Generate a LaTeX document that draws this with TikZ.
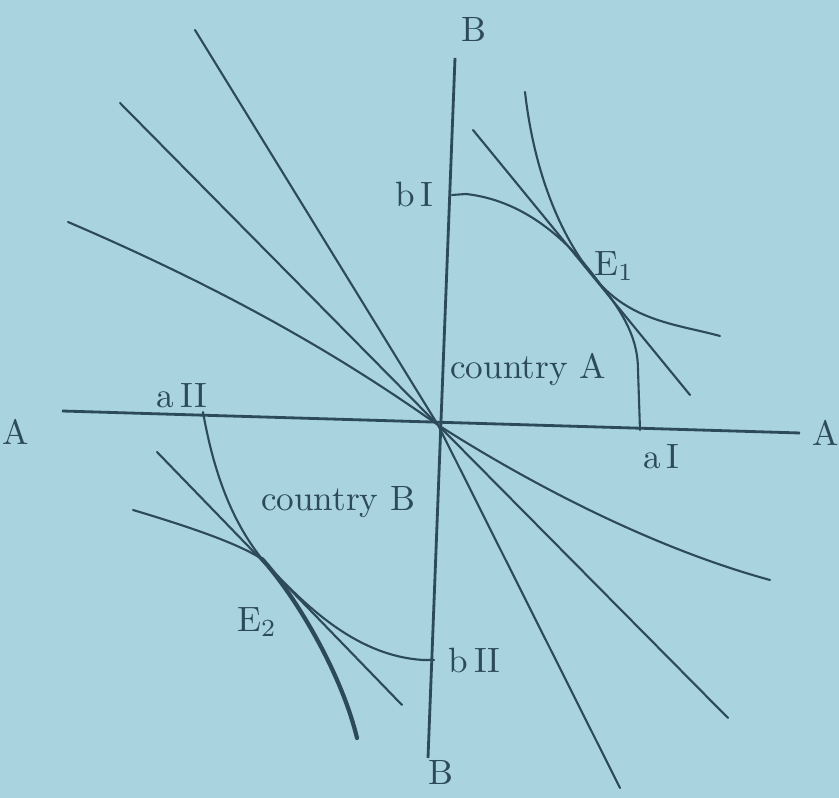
\documentclass[tikz,border=0pt]{standalone}
\usepackage{tikz}
\usetikzlibrary{positioning}
\definecolor{paper}{HTML}{A9D3DE}
\definecolor{ink}{HTML}{2C4A5A}
\tikzset{
  axisline/.style={draw=ink, thick},
  curve/.style={draw=ink, semithick, line cap=round},
  heavy/.style={draw=ink, very thick, line cap=round},
  lbl/.style={text=ink, font=\normalsize, inner sep=1pt},
}
\begin{document}
\begin{tikzpicture}[x=0.01cm, y=-0.01cm]
  \fill[paper] (0,0) rectangle (839,798);
  \useasboundingbox (0,0) rectangle (839,798);

  % axes
  \coordinate (O) at (438,425);
  \coordinate (vtop) at (455,58);
  \coordinate (vbot) at (428,758);
  \coordinate (hl) at (62,411);
  \coordinate (hr) at (800,433);
  \draw[axisline] (vtop) -- (vbot);
  \draw[axisline] (hl) -- (hr);
  \node[lbl] (Btop) at (474,30) {B};
  \node[lbl] (Bbot) at (441,772) {B};
  \node[lbl] (Aleft) at (16,432) {A};
  \node[lbl] (Aright) at (826,433) {A};

  % lines through the origin
  \coordinate (l1a) at (195,30);
  \coordinate (l1b) at (620,788);
  \coordinate (l2a) at (120,103);
  \coordinate (l2b) at (728,718);
  \coordinate (l3a) at (68,222);
  \coordinate (l3b) at (770,580);
  \draw[curve] (l1a) -- (O) -- (l1b);
  \draw[curve] (l2a) -- (O) -- (l2b);
  \draw[curve] (l3a) .. controls (250,300) and (360,370) .. (O)
    .. controls (540,490) and (660,550) .. (l3b);

  % country A
  \coordinate (bI) at (452,195);
  \coordinate (bIt) at (466,194);
  \coordinate (E1) at (600,284);
  \coordinate (aIv) at (638,370);
  \coordinate (aI) at (640,430);
  \coordinate (icA1) at (525,92);
  \coordinate (icA2) at (720,336);
  \coordinate (tA1) at (473,130);
  \coordinate (tA2) at (690,395);
  \draw[curve] (bI) -- (bIt);
  \draw[curve] (bIt) .. controls (520,200) and (565,235) .. (E1)
    .. controls (625,315) and (638,340) .. (aIv) -- (aI);
  \draw[curve] (icA1) .. controls (535,180) and (565,245) .. (E1)
    .. controls (635,322) and (680,325) .. (icA2);
  \draw[curve] (tA1) -- (tA2);
  \node[lbl, left=4pt of bI] (bIlbl) {b\,I};
  \node[lbl, below=3pt of aI, xshift=6pt] (aIlbl) {a\,I};
  \node[lbl] (E1lbl) at (614,266) {E$_1$};
  \node[lbl] (ctyA) at (528,370) {country A};

  % country B
  \coordinate (aII) at (203,412);
  \coordinate (E2) at (262,559);
  \coordinate (icB) at (357,738);
  \coordinate (pB) at (133,510);
  \coordinate (bII) at (423,660);
  \coordinate (bIIt) at (434,660);
  \coordinate (tB1) at (157,452);
  \coordinate (tB2) at (402,705);
  \draw[curve] (aII) .. controls (215,480) and (235,525) .. (E2);
  \draw[heavy] (E2) .. controls (292,592) and (340,668) .. (icB);
  \draw[curve] (pB) .. controls (200,530) and (240,545) .. (E2)
    .. controls (310,612) and (360,656) .. (bII) -- (bIIt);
  \draw[curve] (tB1) -- (tB2);
  \node[lbl, above=0pt of aII, xshift=-6pt] (aIIlbl) {a\,II};
  \node[lbl, right=3pt of bIIt] (bIIlbl) {b\,II};
  \node[lbl] (E2lbl) at (257,622) {E$_2$};
  \node[lbl] (ctyB) at (338,502) {country B};
\end{tikzpicture}
\end{document}
